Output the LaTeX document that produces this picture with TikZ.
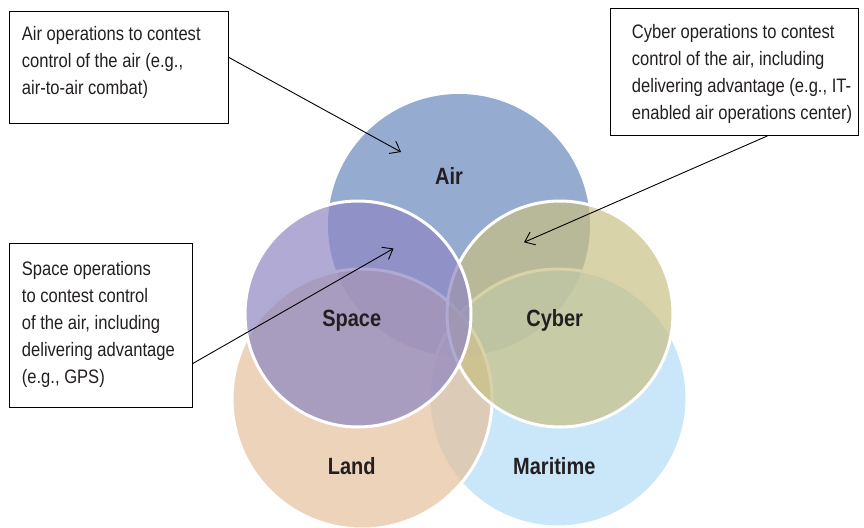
\documentclass[tikz,border=0pt]{standalone}
\usepackage{fontspec}
\setmainfont{Liberation Sans}[FakeStretch=0.85]
\usetikzlibrary{arrows.meta}
\definecolor{airblue}{RGB}{104,135,186}
\definecolor{spacelav}{RGB}{142,134,194}
\definecolor{landpeach}{RGB}{229,192,156}
\definecolor{seablue}{RGB}{178,221,245}
\definecolor{cyberkhaki}{RGB}{199,192,131}
\definecolor{inkgray}{RGB}{35,31,32}
\tikzset{
  disc/.style={fill opacity=0.7,draw=white,line width=3pt},
  realm/.style={font=\fontsize{23.5}{25}\selectfont\bfseries,text=inkgray,anchor=base},
  infobox/.style={draw=black,line width=0.9pt,inner sep=0pt,anchor=north west},
  infotext/.style={anchor=base west,align=left,inner sep=0pt,font=\fontsize{19.5}{27}\selectfont,text=inkgray},
  pointer/.style={-{Straight Barb[length=9pt,width=14pt]},line width=0.9pt}
}
\begin{document}
\begin{tikzpicture}[x=1pt,y=-1pt]
  \useasboundingbox (0,0) rectangle (864,527);
  \fill[airblue,fill opacity=0.7] (459,225) circle[radius=131pt];
  \path[disc,fill=seablue] (558,398) circle[radius=129pt];
  \path[disc,fill=landpeach] (362,399) circle[radius=130pt];
  \path[disc,fill=cyberkhaki] (560,314) circle[radius=113pt];
  \path[disc,fill=spacelav] (358,314) circle[radius=113pt];
  \node[realm] (air) at (449,184.3) {Air};
  \node[realm] (space) at (351.7,326.7) {Space};
  \node[realm] (cyber) at (554.7,326.7) {Cyber};
  \node[realm] (land) at (351.7,474) {Land};
  \node[realm] (maritime) at (554.3,474) {Maritime};
  \node[infobox,minimum width=219pt,minimum height=111.5pt] (airbox) at (8.5,11) {};
  \node[infotext] (airtxt) at (21.7,94.3) {Air operations to contest\\control of the air (e.g.,\\air-to-air combat)};
  \node[infobox,minimum width=248pt,minimum height=126.5pt] (cyberbox) at (610,8.5) {};
  \node[infotext] (cybertxt) at (631.7,119) {Cyber operations to contest\\control of the air, including\\delivering advantage (e.g., IT-\\enabled air operations center)};
  \node[infobox,minimum width=183pt,minimum height=164pt] (spacebox) at (8.5,242.7) {};
  \node[infotext] (spacetxt) at (21.7,383.3) {Space operations\\to contest control\\of the air, including\\delivering advantage\\(e.g., GPS)};
  \coordinate (airtip) at (401,152);
  \coordinate (cybertip) at (524,242.3);
  \coordinate (spacetip) at (393.5,248.5);
  \draw[pointer] ([yshift=10pt]airbox.east) -- (airtip);
  \draw[pointer] ([xshift=33pt]cyberbox.south) -- (cybertip);
  \draw[pointer] ([yshift=-38.6pt]spacebox.east) -- (spacetip);
\end{tikzpicture}
\end{document}
